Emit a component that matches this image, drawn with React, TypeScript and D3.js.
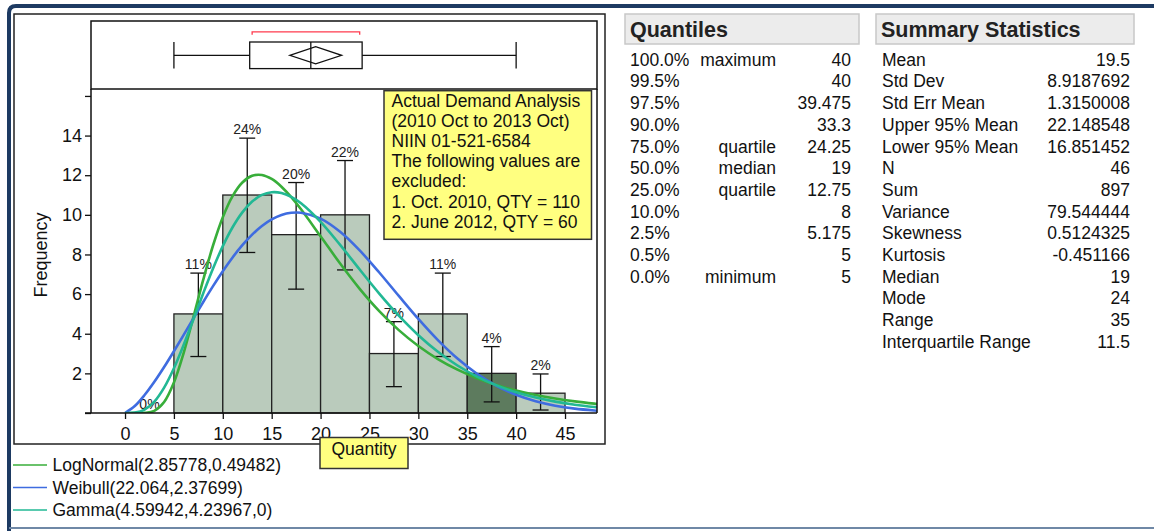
import { useEffect, useRef } from "react";
import { select, scaleLinear, line, curveCatmullRom, axisBottom, axisLeft } from "d3";

// histogram bins (width 5)
const binStarts = [0, 5, 10, 15, 20, 25, 30, 35, 40];
const binCounts = [0, 5, 11, 9, 10, 3, 5, 2, 1];
const binPercents = ["0%", "11%", "24%", "20%", "22%", "7%", "11%", "4%", "2%"];
const errUpper = [0, 7.06, 13.87, 11.63, 12.74, 4.61, 7.06, 3.35, 1.97];
const errLower = [0, 2.85, 8.1, 6.25, 7.22, 1.33, 2.85, 0.56, 0.15];
const selectedBin = 35;
const binWidth = 5;

// outlier box plot
const whiskerLow = 5;
const quartile1 = 12.75;
const medianValue = 19;
const quartile3 = 24.25;
const whiskerHigh = 40;
const meanValue = 19.5;
const meanLower = 16.851452;
const meanUpper = 22.148548;
const shortestHalf = [13, 24];

const xTicks = [0, 5, 10, 15, 20, 25, 30, 35, 40, 45];
const yTicks = [0, 2, 4, 6, 8, 10, 12, 14, 16];
const yTickLabels = [2, 4, 6, 8, 10, 12, 14];

// fitted curves (frequency scale)
const curveX = [0, 1, 2, 3, 4, 5, 6, 7, 8, 9, 10, 11, 12, 13, 14, 15, 16, 17, 18, 20, 22, 24, 26, 28, 30, 32, 34, 36, 38, 40, 42, 44, 46, 48, 49];
const logNormalY = [0, 0, 0.006, 0.111, 0.557, 1.539, 3.035, 4.849, 6.727, 8.452, 9.881, 10.945, 11.633, 11.972, 12.012, 11.809, 11.419, 10.894, 10.279, 8.918, 7.542, 6.266, 5.141, 4.182, 3.382, 2.724, 2.189, 1.757, 1.41, 1.131, 0.908, 0.73, 0.588, 0.474, 0.426];
const weibullY = [0, 0.349, 0.906, 1.574, 2.319, 3.116, 3.941, 4.778, 5.603, 6.401, 7.155, 7.849, 8.467, 9.0, 9.435, 9.766, 9.991, 10.103, 10.108, 9.805, 9.141, 8.203, 7.09, 5.907, 4.746, 3.676, 2.746, 1.978, 1.374, 0.919, 0.593, 0.368, 0.22, 0.127, 0.095];
const gammaY = [0, 0.018, 0.169, 0.576, 1.281, 2.259, 3.44, 4.732, 6.044, 7.295, 8.42, 9.372, 10.126, 10.669, 11.004, 11.142, 11.103, 10.908, 10.584, 9.649, 8.484, 7.24, 6.025, 4.909, 3.926, 3.09, 2.398, 1.838, 1.393, 1.045, 0.778, 0.574, 0.42, 0.305, 0.26];

const legendNames = ["LogNormal(2.85778,0.49482)", "Weibull(22.064,2.37699)", "Gamma(4.59942,4.23967,0)"];
const legendColors = ["#38ae3a", "#3f6ce0", "#22b894"];

const noteLines = [
  "Actual Demand Analysis",
  "(2010 Oct to 2013 Oct)",
  "NIIN 01-521-6584",
  "The following values are",
  "excluded:",
  "1. Oct. 2010, QTY = 110",
  "2. June 2012, QTY = 60",
];

const quantilePcts = ["100.0%", "99.5%", "97.5%", "90.0%", "75.0%", "50.0%", "25.0%", "10.0%", "2.5%", "0.5%", "0.0%"];
const quantileNames = ["maximum", "", "", "", "quartile", "median", "quartile", "", "", "", "minimum"];
const quantileValues = ["40", "40", "39.475", "33.3", "24.25", "19", "12.75", "8", "5.175", "5", "5"];

const summaryNames = ["Mean", "Std Dev", "Std Err Mean", "Upper 95% Mean", "Lower 95% Mean", "N", "Sum", "Variance", "Skewness", "Kurtosis", "Median", "Mode", "Range", "Interquartile Range"];
const summaryValues = ["19.5", "8.9187692", "1.3150008", "22.148548", "16.851452", "46", "897", "79.544444", "0.5124325", "-0.451166", "19", "24", "35", "11.5"];

const FONT = "'Liberation Sans', Arial, sans-serif";

export default function App() {
  const svgRef = useRef<SVGSVGElement | null>(null);

  useEffect(() => {
    if (!svgRef.current) return;
    const svg = select(svgRef.current);
    svg.selectAll("*").remove();

    const left = 91, right = 597, top = 89, bottom = 413;
    const boxTop = 21;

    const x = scaleLinear().domain([-3.48, 48.27]).range([left, right]);
    const y = scaleLinear().domain([0, 16.35]).range([bottom, top]);

    // outer frame
    svg.append("rect").attr("width", 1154).attr("height", 531).attr("fill", "white");
    svg
      .append("path")
      .attr("d", "M9,531 L9,13 Q9,6 16,6 L1154,6")
      .attr("fill", "none")
      .attr("stroke", "#1d3a62")
      .attr("stroke-width", 4);
    svg
      .append("line")
      .attr("x1", 9).attr("x2", 1154).attr("y1", 528).attr("y2", 528)
      .attr("stroke", "#6f88a6").attr("stroke-width", 2);

    svg
      .append("rect")
      .attr("x", 14).attr("y", 14).attr("width", 591).attr("height", 430)
      .attr("fill", "none").attr("stroke", "#222").attr("stroke-width", 1.5);

    // box plot panel
    svg
      .append("rect")
      .attr("x", left).attr("y", boxTop).attr("width", right - left).attr("height", top - boxTop)
      .attr("fill", "none").attr("stroke", "#111").attr("stroke-width", 1.5);

    const bp = svg.append("g").attr("stroke", "#111").attr("stroke-width", 1.3).attr("fill", "none");
    const cy = 55.3, bh = 13.3;
    bp.append("line").attr("x1", x(whiskerLow)).attr("x2", x(quartile1)).attr("y1", cy).attr("y2", cy);
    bp.append("line").attr("x1", x(quartile3)).attr("x2", x(whiskerHigh)).attr("y1", cy).attr("y2", cy);
    bp.append("line").attr("x1", x(whiskerLow)).attr("x2", x(whiskerLow)).attr("y1", cy - bh).attr("y2", cy + bh);
    bp.append("line").attr("x1", x(whiskerHigh)).attr("x2", x(whiskerHigh)).attr("y1", cy - bh).attr("y2", cy + bh);
    bp.append("rect").attr("x", x(quartile1)).attr("y", cy - bh).attr("width", x(quartile3) - x(quartile1)).attr("height", bh * 2);
    bp.append("line").attr("x1", x(medianValue)).attr("x2", x(medianValue)).attr("y1", cy - bh).attr("y2", cy + bh);
    bp.append("path").attr(
      "d",
      `M${x(meanLower)},${cy} L${x(meanValue)},${cy - 8.6} L${x(meanUpper)},${cy} L${x(meanValue)},${cy + 8.6} Z`
    );
    svg
      .append("path")
      .attr("d", `M${x(shortestHalf[0])},${cy - 20.5} L${x(shortestHalf[0])},${cy - 23.5} L${x(shortestHalf[1])},${cy - 23.5} L${x(shortestHalf[1])},${cy - 20.5}`)
      .attr("fill", "none").attr("stroke", "#ff3b4e").attr("stroke-width", 1.3);

    // histogram bars
    svg
      .append("g")
      .selectAll("rect")
      .data(binStarts.map((s, i) => ({ s, c: binCounts[i] })).filter((d) => d.c > 0))
      .enter()
      .append("rect")
      .attr("x", (d) => x(d.s))
      .attr("y", (d) => y(d.c))
      .attr("width", (d) => x(d.s + binWidth) - x(d.s))
      .attr("height", (d) => y(0) - y(d.c))
      .attr("fill", (d) => (d.s === selectedBin ? "#5d7b5e" : "#bacbbc"))
      .attr("stroke", "#222")
      .attr("stroke-width", 1.3);

    // error bars
    const eb = svg.append("g").attr("stroke", "#111").attr("stroke-width", 1.3);
    binStarts.forEach((s, i) => {
      if (binCounts[i] === 0) return;
      const mx = x(s + binWidth / 2);
      eb.append("line").attr("x1", mx).attr("x2", mx).attr("y1", y(errLower[i])).attr("y2", y(errUpper[i]));
      eb.append("line").attr("x1", mx - 8).attr("x2", mx + 8).attr("y1", y(errUpper[i])).attr("y2", y(errUpper[i]));
      eb.append("line").attr("x1", mx - 8).attr("x2", mx + 8).attr("y1", y(errLower[i])).attr("y2", y(errLower[i]));
    });

    svg
      .append("g")
      .selectAll("text")
      .data(binStarts)
      .enter()
      .append("text")
      .attr("x", (s) => x(s + binWidth / 2))
      .attr("y", (s, i) => y(errUpper[i]) - 4)
      .attr("text-anchor", "middle")
      .attr("font-family", FONT)
      .attr("font-size", 14)
      .attr("fill", "#222")
      .text((s, i) => binPercents[i]);

    // fitted curves
    svg
      .append("defs")
      .append("clipPath")
      .attr("id", "plotClip")
      .append("rect")
      .attr("x", left).attr("y", top).attr("width", right - left).attr("height", bottom - top);

    const curves = svg.append("g").attr("clip-path", "url(#plotClip)");
    [logNormalY, weibullY, gammaY].forEach((vals, k) => {
      const gen = line<number>()
        .x((d, i) => x(curveX[i]))
        .y((d) => y(d))
        .curve(curveCatmullRom);
      curves
        .append("path")
        .datum(vals)
        .attr("fill", "none")
        .attr("stroke", legendColors[k])
        .attr("stroke-width", 2.6)
        .attr("d", gen as any);
    });

    // histogram frame
    svg
      .append("path")
      .attr("d", `M${left},${top} L${left},${bottom} M${right},${top} L${right},${bottom}`)
      .attr("stroke", "#111").attr("stroke-width", 1.5);

    // axes
    const xAxis = svg
      .append("g")
      .attr("transform", `translate(0,${bottom})`)
      .call(axisBottom(x).tickValues(xTicks).tickSizeInner(6).tickSizeOuter(0).tickPadding(8));
    xAxis.select(".domain").remove();
    xAxis.selectAll(".tick line").attr("stroke", "#111").attr("stroke-width", 1.3);
    xAxis.selectAll("text").attr("font-family", FONT).attr("font-size", 18).attr("fill", "#111");

    const yAxis = svg
      .append("g")
      .attr("transform", `translate(${left},0)`)
      .call(
        axisLeft(y)
          .tickValues(yTicks)
          .tickSizeInner(6)
          .tickSizeOuter(0)
          .tickPadding(3)
          .tickFormat((d: any) => (yTickLabels.includes(d) ? String(d) : ""))
      );
    yAxis.select(".domain").remove();
    yAxis.selectAll(".tick line").attr("stroke", "#111").attr("stroke-width", 1.3);
    yAxis.selectAll("text").attr("font-family", FONT).attr("font-size", 18).attr("fill", "#111");

    svg
      .append("line")
      .attr("x1", left - 6).attr("x2", right).attr("y1", bottom).attr("y2", bottom)
      .attr("stroke", "#111").attr("stroke-width", 1.5);

    svg
      .append("text")
      .attr("transform", "translate(47,255) rotate(-90)")
      .attr("text-anchor", "middle")
      .attr("font-family", FONT)
      .attr("font-size", 18)
      .attr("fill", "#111")
      .text("Frequency");

    // annotation
    svg
      .append("rect")
      .attr("x", 384).attr("y", 90.7).attr("width", 207.5).attr("height", 148.6)
      .attr("fill", "#ffff80").attr("stroke", "#333").attr("stroke-width", 1.5);
    svg
      .append("g")
      .selectAll("text")
      .data(noteLines)
      .enter()
      .append("text")
      .attr("x", 391.5)
      .attr("y", (d, i) => 106.7 + i * 20.17)
      .attr("font-family", FONT)
      .attr("font-size", 17.5)
      .attr("fill", "#111")
      .text((d) => d);

    // x label box (sits over the 20 / 25 tick labels, as in the report)
    svg
      .append("rect")
      .attr("x", 320).attr("y", 437.5).attr("width", 88).attr("height", 31)
      .attr("fill", "#ffff80").attr("stroke", "#333").attr("stroke-width", 1.5);
    svg
      .append("text")
      .attr("x", 364).attr("y", 455)
      .attr("text-anchor", "middle")
      .attr("font-family", FONT)
      .attr("font-size", 17.5)
      .attr("fill", "#111")
      .text("Quantity");

    // legend
    const lg = svg.append("g");
    legendNames.forEach((name, i) => {
      const ly = 465 + i * 22.5;
      lg.append("line").attr("x1", 13).attr("x2", 47).attr("y1", ly).attr("y2", ly)
        .attr("stroke", legendColors[i]).attr("stroke-width", 1.6);
      lg.append("text").attr("x", 52.5).attr("y", ly + 6).attr("font-family", FONT)
        .attr("font-size", 17.5).attr("fill", "#111").text(name);
    });

    // report tables
    const table = (x0: number, x1: number, title: string) => {
      svg
        .append("rect")
        .attr("x", x0).attr("y", 14).attr("width", x1 - x0).attr("height", 30)
        .attr("fill", "#ececec").attr("stroke", "#c8c8c8").attr("stroke-width", 1.5);
      svg
        .append("text")
        .attr("x", x0 + 5).attr("y", 37)
        .attr("font-family", FONT)
        .attr("font-size", 21.5)
        .attr("font-weight", "bold")
        .attr("fill", "#222")
        .text(title);
    };
    table(625, 859, "Quantiles");
    table(876, 1134, "Summary Statistics");

    const rowY = (i: number) => 65.7 + i * 21.7;
    const q = svg.append("g").attr("font-family", FONT).attr("font-size", 17.5).attr("fill", "#111");
    quantilePcts.forEach((p, i) => {
      q.append("text").attr("x", 630).attr("y", rowY(i)).text(p);
      q.append("text").attr("x", 776).attr("y", rowY(i)).attr("text-anchor", "end").text(quantileNames[i]);
      q.append("text").attr("x", 851).attr("y", rowY(i)).attr("text-anchor", "end").text(quantileValues[i]);
    });
    summaryNames.forEach((n, i) => {
      q.append("text").attr("x", 882).attr("y", rowY(i)).text(n);
      q.append("text").attr("x", 1130).attr("y", rowY(i)).attr("text-anchor", "end").text(summaryValues[i]);
    });
  }, []);

  return (
    <svg
      ref={svgRef}
      width={1154}
      height={531}
      style={{ position: "absolute", left: 0, top: 0 }}
    ></svg>
  );
}
